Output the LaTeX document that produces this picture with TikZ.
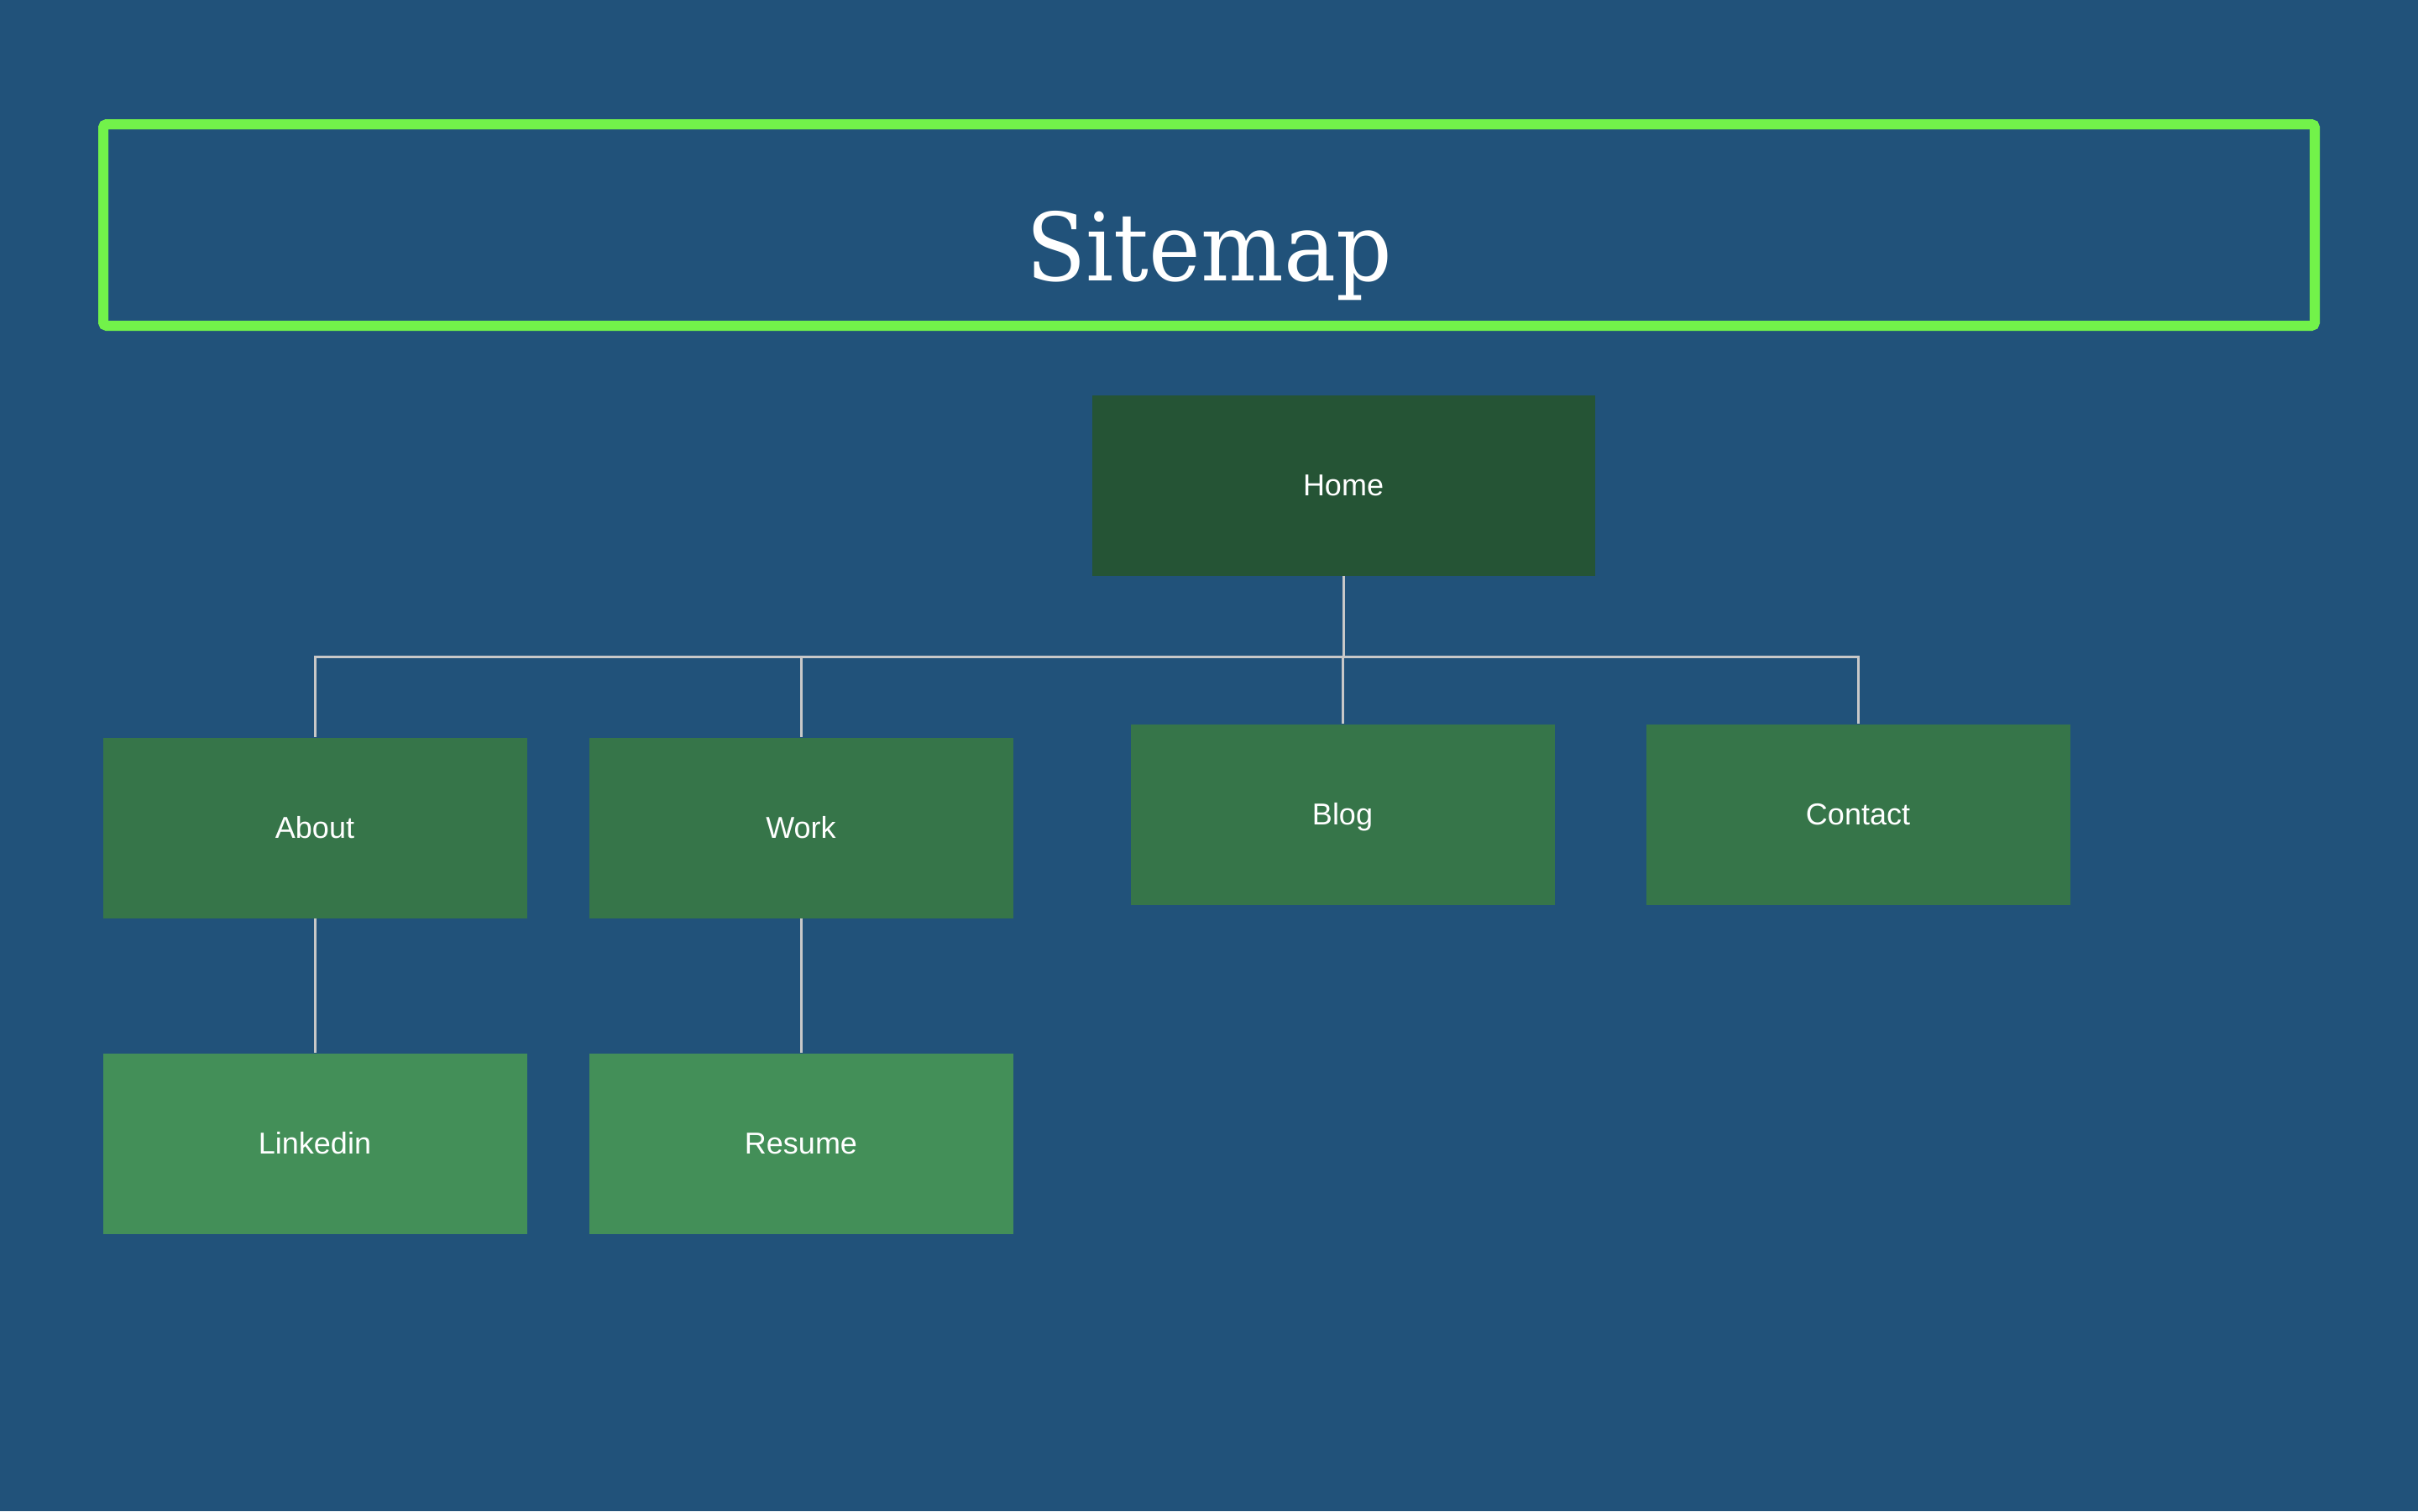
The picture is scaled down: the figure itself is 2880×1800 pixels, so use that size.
\documentclass[tikz,border=0pt]{standalone}
\usepackage{fontspec}
\setmainfont{Liberation Sans}
\newfontfamily\titlefont[FakeStretch=0.93]{DejaVu Serif}
\definecolor{bg}{HTML}{21527A}
\definecolor{homegreen}{HTML}{255435}
\definecolor{midgreen}{HTML}{367549}
\definecolor{lightgreen}{HTML}{438F58}
\definecolor{framegreen}{HTML}{72F24A}
\definecolor{linkgray}{HTML}{C8C8C8}
\tikzset{
  pagebox/.style={inner sep=0pt, text=white, font=\fontsize{18}{22}\selectfont, text height=12.9pt, text depth=0pt},
  homebox/.style={pagebox, fill=homegreen, minimum width=299.5pt, minimum height=107.5pt},
  secbox/.style={pagebox, fill=midgreen, minimum width=252.5pt, minimum height=107.5pt},
  subbox/.style={pagebox, fill=lightgreen, minimum width=252.5pt, minimum height=107.5pt},
  titleframe/.style={draw=framegreen, line width=6pt, rounded corners=2pt, inner sep=0pt, minimum width=1317pt, minimum height=120pt},
  link/.style={draw=linkgray, line width=1.5pt}
}
\begin{document}
\begin{tikzpicture}[x=0.5pt,y=-0.5pt]
  \fill[bg] (0,0) rectangle (2880,1800);
  \useasboundingbox (0,0) rectangle (2880,1800);
  \node[titleframe] (frame) at (1440,268) {};
  \node[anchor=base, inner sep=0pt, text=white, font=\titlefont\fontsize{56}{64}\selectfont] (title) at (1440,334) {Sitemap};

  \node[homebox] (home) at (1600,578) {Home};
  \node[secbox] (about) at (375,986) {About};
  \node[secbox] (work) at (954,986) {Work};
  \node[secbox] (blog) at (1599,970) {Blog};
  \node[secbox] (contact) at (2213,970) {Contact};
  \node[subbox] (linkedin) at (375,1362) {Linkedin};
  \node[subbox] (resume) at (954,1362) {Resume};

  \coordinate (bus) at (1600,782);
  \draw[link] (home.south) -- (bus);
  \draw[link] (bus) -| (about.north);
  \draw[link] (bus) -| (work.north);
  \draw[link] (bus) -| (blog.north);
  \draw[link] (bus) -| (contact.north);
  \draw[link] (about.south) -- (linkedin.north);
  \draw[link] (work.south) -- (resume.north);
\end{tikzpicture}
\end{document}
